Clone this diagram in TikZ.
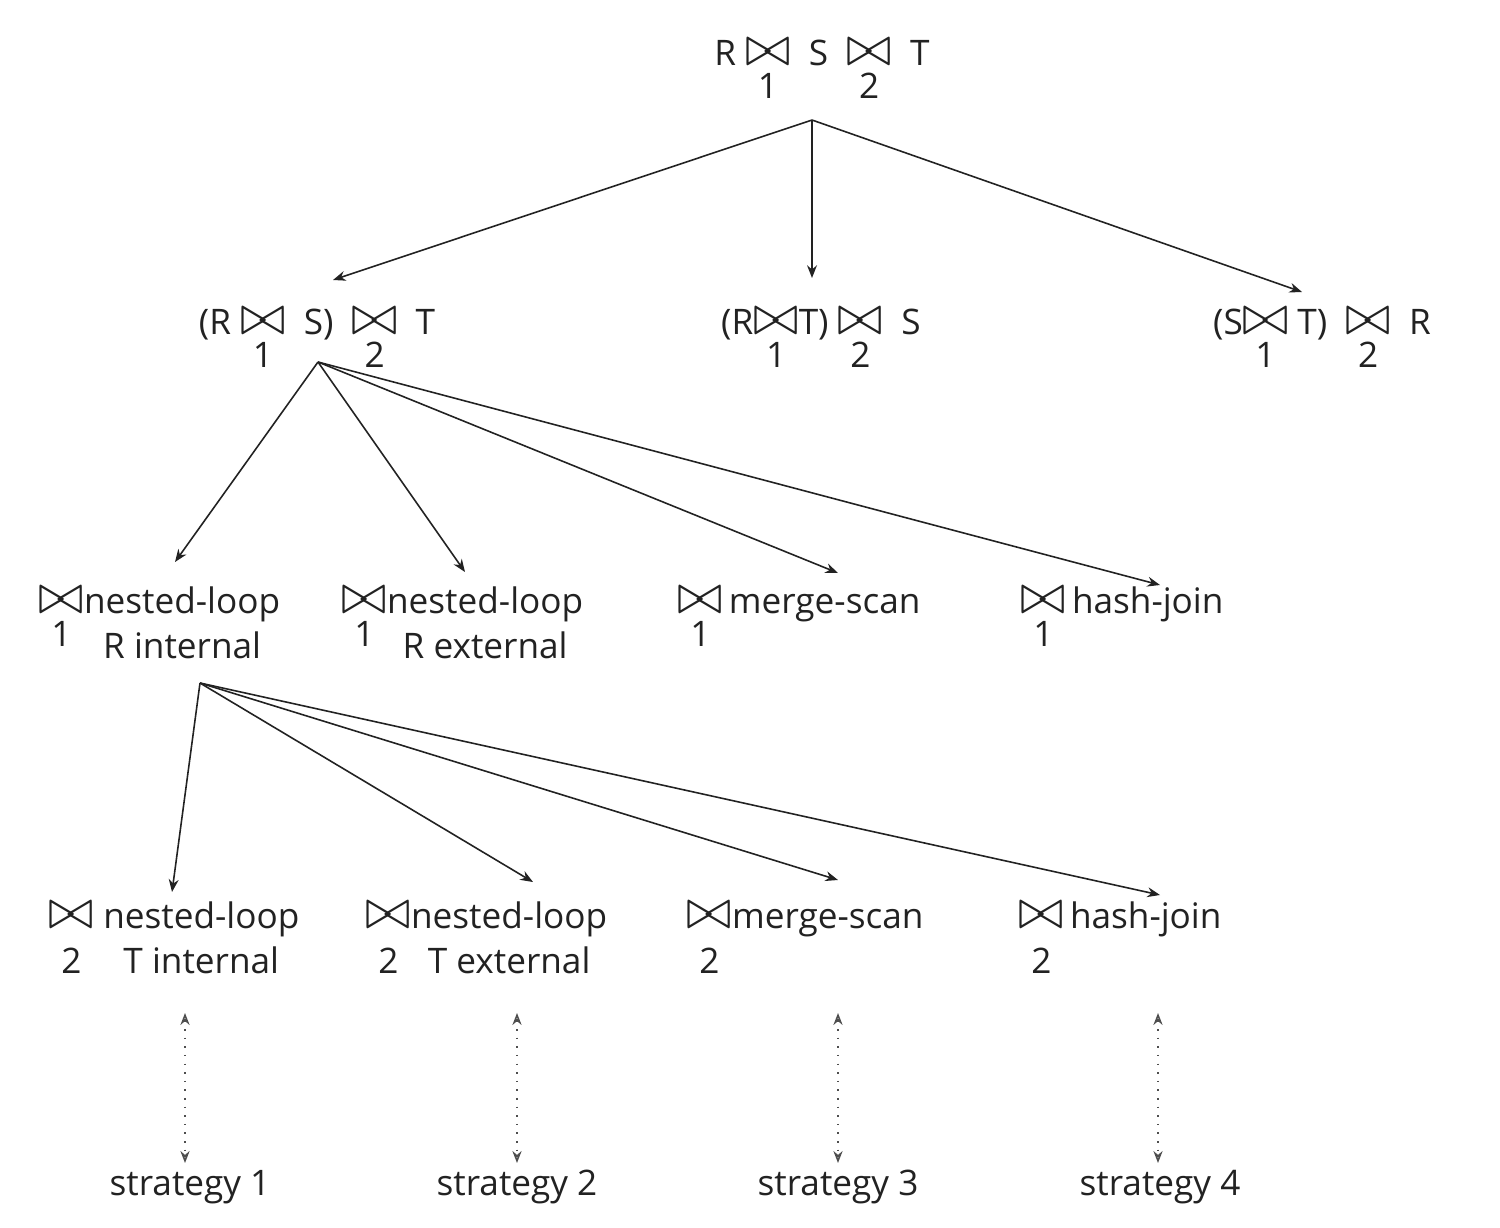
\documentclass[tikz,border=0pt]{standalone}
\usepackage{fontspec}
\setmainfont{Open Sans}
\usepackage{graphicx}
\usetikzlibrary{arrows.meta}
\newcommand\bt{\scalebox{1.55}[1.6]{$\bowtie$}}
% bowtie with index below; #1 = vertical gap tweak, #2 = index
\newcommand\jn[2][-2.6pt]{\smash{\begin{tabular}[t]{@{}c@{}}\bt\\[#1]#2\end{tabular}}}
\newcommand\two[2]{\begin{tabular}[t]{@{}c@{}}#1\\[0.8pt]#2\end{tabular}}
\definecolor{ink}{HTML}{222222}
\tikzset{
  lbl/.style={inner sep=0pt, anchor=base, font=\fontsize{10}{12}\selectfont, text=ink},
  lblw/.style={lbl, anchor=base west},
  edge/.style={draw=ink, line width=0.45pt, -{Stealth[length=3.6pt,width=2.8pt]}},
  dual/.style={draw=ink!80, line width=0.45pt, dotted, {Stealth[length=3.4pt,width=2.6pt,open]}-{Stealth[length=3.4pt,width=2.6pt,open]}}
}
\begin{document}
\begin{tikzpicture}[x=0.01cm, y=-0.01cm]
\useasboundingbox (0,0) rectangle (1500,1227);
\fill[white] (0,0) rectangle (1500,1227);
% level 1
\node[lbl] (top) at (822,65) {R\ \jn{1}\ \ S\ \ \jn{2}\ \ T};
% level 2
\node[lbl] (l) at (317,334) {(R\ \jn{1}\ \ S)\ \ \jn{2}\ \ T};
\node[lbl] (m) at (821,334) {(R\jn{1}T)\ \jn{2}\ \ S};
\node[lbl] (r) at (1322,334) {(S\jn{1}\ T)\ \ \jn{2}\ \ R};
% level 3
\node[lblw] (a1) at (38,613) {\jn{1}\two{nested-loop}{R internal}};
\node[lblw] (a2) at (341,613) {\jn{1}\two{nested-loop}{R external}};
\node[lblw] (a3) at (677,613) {\jn{1}\,merge-scan};
\node[lblw] (a4) at (1020,613) {\jn{1}\,hash-join};
% level 4
\node[lblw] (b1) at (48,928) {\jn[1pt]{2}\ \two{nested-loop}{T internal}};
\node[lblw] (b2) at (365,928) {\jn[1pt]{2}\two{nested-loop}{T external}};
\node[lblw] (b3) at (686,928) {\jn[1pt]{2}merge-scan};
\node[lblw] (b4) at (1018,928) {\jn[1pt]{2}\,hash-join};
% strategies
\node[lbl] (s1) at (190,1195) {strategy 1};
\node[lbl] (s2) at (517,1195) {strategy 2};
\node[lbl] (s3) at (838,1195) {strategy 3};
\node[lbl] (s4) at (1160,1195) {strategy 4};
% connector points
\coordinate (o0) at (812,120);
\coordinate (e1) at (333,280);
\coordinate (e2) at (812,278);
\coordinate (e3) at (1302,292);
\coordinate (o1) at (318,362);
\coordinate (f1) at (175,562);
\coordinate (f2) at (465,572);
\coordinate (f3) at (838,573);
\coordinate (f4) at (1160,585);
\coordinate (o2) at (200,683);
\coordinate (g1) at (172,892);
\coordinate (g2) at (533,882);
\coordinate (g3) at (838,880);
\coordinate (g4) at (1160,895);
\foreach \e in {e1,e2,e3} \draw[edge] (o0) -- (\e);
\foreach \e in {f1,f2,f3,f4} \draw[edge] (o1) -- (\e);
\foreach \e in {g1,g2,g3,g4} \draw[edge] (o2) -- (\e);
% dotted double arrows
\coordinate (u1) at (185,1013); \coordinate (d1) at (185,1163);
\coordinate (u2) at (517,1013); \coordinate (d2) at (517,1163);
\coordinate (u3) at (838,1013); \coordinate (d3) at (838,1163);
\coordinate (u4) at (1158,1013); \coordinate (d4) at (1158,1163);
\foreach \i in {1,2,3,4} \draw[dual] (u\i) -- (d\i);
\end{tikzpicture}
\end{document}
